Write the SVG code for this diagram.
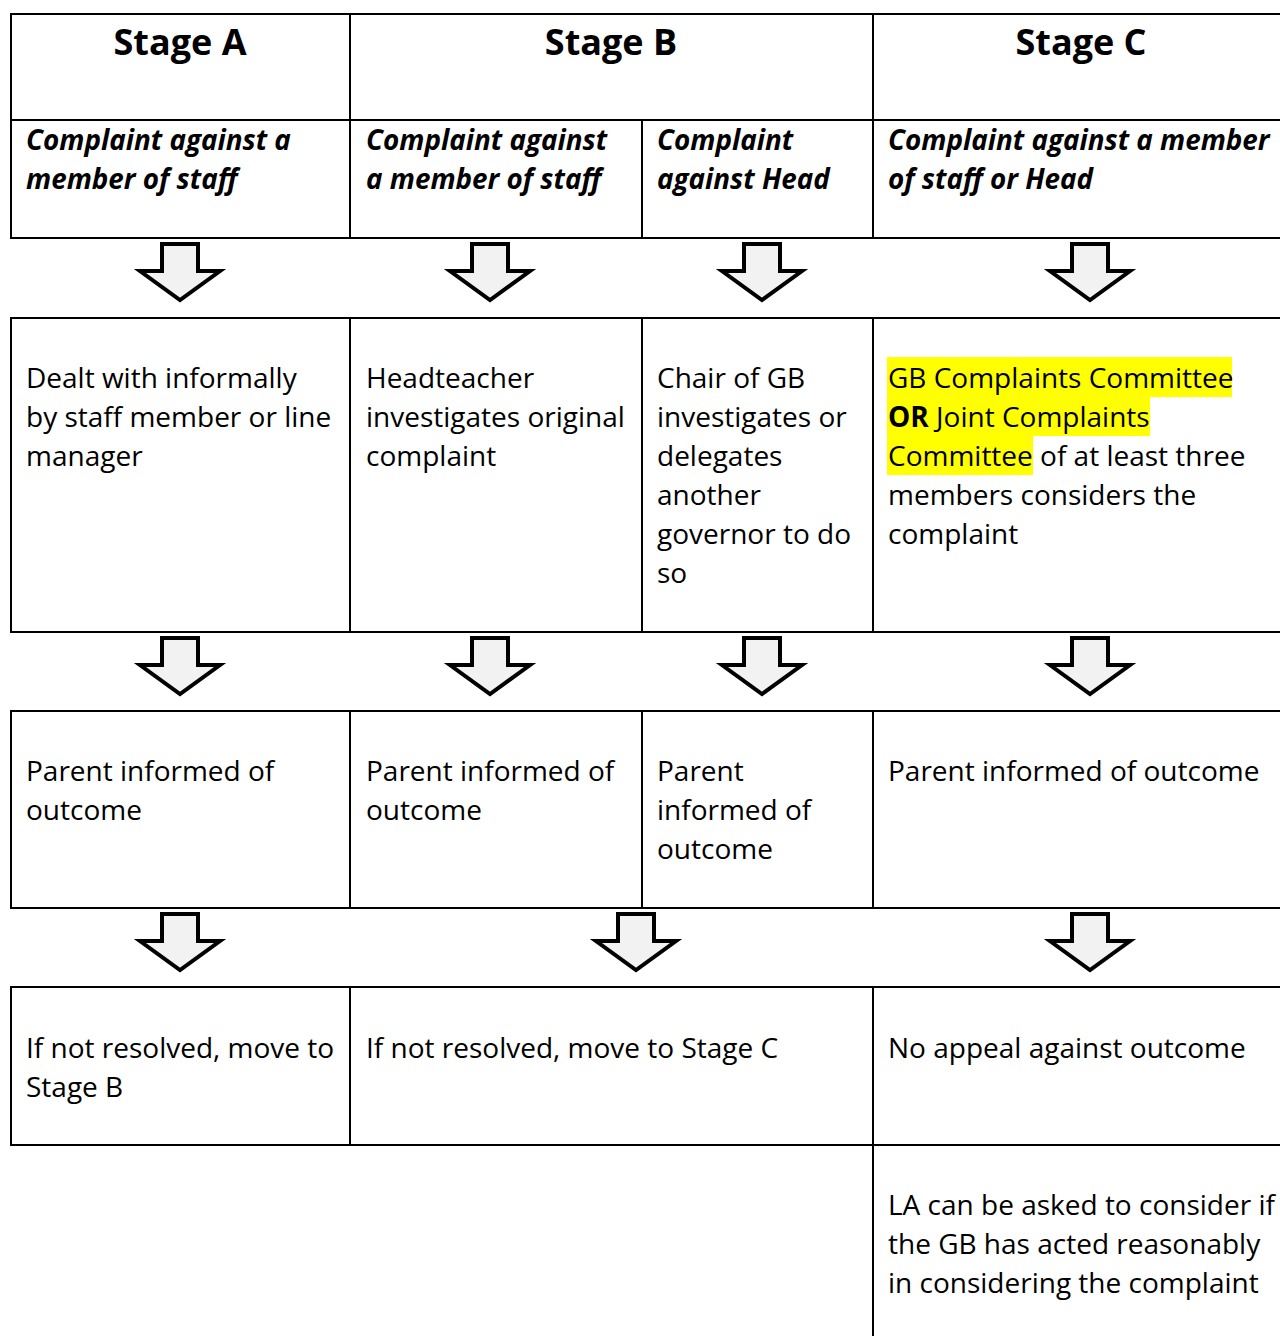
<svg xmlns="http://www.w3.org/2000/svg" xmlns:xlink="http://www.w3.org/1999/xlink" width="1280" height="1336" viewBox="0 0 1280 1336">
  <style>
    .cell { fill: #ffffff; stroke: #000000; stroke-width: 2; }
    .t { font-family: "Open Sans", "Noto Sans", "Liberation Sans", sans-serif; font-size: 28px; fill: #000000; }
    .h { font-family: "Open Sans", "Noto Sans", "Liberation Sans", sans-serif; font-size: 36px; font-weight: bold; fill: #000000; text-anchor: middle; }
    .s { font-family: "Open Sans", "Noto Sans", "Liberation Sans", sans-serif; font-size: 27.8px; font-weight: bold; font-style: italic; fill: #000000; }
    .hl { fill: #ffff00; }
    .arrow { fill: #f2f2f2; stroke: #000000; stroke-width: 4; stroke-linejoin: miter; stroke-miterlimit: 10; }
  </style>
  <defs>
    <path id="down" d="M -18 6 H 18 V 33 H 40 L 0 62 L -40 33 H -18 Z"/>
  </defs>
  <rect x="0" y="0" width="1280" height="1336" fill="#ffffff"/>

  <!-- Row 1: stage headers -->
  <g id="head-a"><rect class="cell" x="11" y="14" width="339" height="106"/><text class="h" x="180" y="55">Stage A</text></g>
  <g id="head-b"><rect class="cell" x="350" y="14" width="523" height="106"/><text class="h" x="611" y="55">Stage B</text></g>
  <g id="head-c"><rect class="cell" x="873" y="14" width="420" height="106"/><text class="h" x="1081" y="55">Stage C</text></g>

  <!-- Row 2: complaint types -->
  <g id="type-a"><rect class="cell" x="11" y="120" width="339" height="118"/><text class="s" x="26" y="150">Complaint against a</text><text class="s" x="26" y="189">member of staff</text></g>
  <g id="type-b1"><rect class="cell" x="350" y="120" width="292" height="118"/><text class="s" x="366" y="150">Complaint against</text><text class="s" x="366" y="189">a member of staff</text></g>
  <g id="type-b2"><rect class="cell" x="642" y="120" width="231" height="118"/><text class="s" x="657" y="150">Complaint</text><text class="s" x="657" y="189">against Head</text></g>
  <g id="type-c"><rect class="cell" x="873" y="120" width="420" height="118"/><text class="s" x="888" y="150">Complaint against a member</text><text class="s" x="888" y="189">of staff or Head</text></g>

  <!-- Row 3: handling -->
  <g id="handle-a"><rect class="cell" x="11" y="318" width="339" height="314"/>
    <text class="t" x="26" y="388">Dealt with informally</text>
    <text class="t" x="26" y="427">by staff member or line</text>
    <text class="t" x="26" y="466">manager</text></g>
  <g id="handle-b1"><rect class="cell" x="350" y="318" width="292" height="314"/>
    <text class="t" x="366" y="388">Headteacher</text>
    <text class="t" x="366" y="427">investigates original</text>
    <text class="t" x="366" y="466">complaint</text></g>
  <g id="handle-b2"><rect class="cell" x="642" y="318" width="231" height="314"/>
    <text class="t" x="657" y="388">Chair of GB</text>
    <text class="t" x="657" y="427">investigates or</text>
    <text class="t" x="657" y="466">delegates</text>
    <text class="t" x="657" y="505">another</text>
    <text class="t" x="657" y="544">governor to do</text>
    <text class="t" x="657" y="583">so</text></g>
  <g id="handle-c"><rect class="cell" x="873" y="318" width="420" height="314"/>
    <rect class="hl" x="887" y="357" width="345" height="40"/>
    <rect class="hl" x="887" y="396" width="263" height="40"/>
    <rect class="hl" x="887" y="435" width="146" height="40"/>
    <text class="t" x="888" y="388">GB Complaints Committee</text>
    <text class="t" x="888" y="427"><tspan font-weight="bold">OR</tspan> Joint Complaints</text>
    <text class="t" x="888" y="466">Committee of at least three</text>
    <text class="t" x="888" y="505">members considers the</text>
    <text class="t" x="888" y="544">complaint</text></g>

  <!-- Row 4: outcome -->
  <g id="outcome-a"><rect class="cell" x="11" y="711" width="339" height="197"/>
    <text class="t" x="26" y="781">Parent informed of</text>
    <text class="t" x="26" y="820">outcome</text></g>
  <g id="outcome-b1"><rect class="cell" x="350" y="711" width="292" height="197"/>
    <text class="t" x="366" y="781">Parent informed of</text>
    <text class="t" x="366" y="820">outcome</text></g>
  <g id="outcome-b2"><rect class="cell" x="642" y="711" width="231" height="197"/>
    <text class="t" x="657" y="781">Parent</text>
    <text class="t" x="657" y="820">informed of</text>
    <text class="t" x="657" y="859">outcome</text></g>
  <g id="outcome-c"><rect class="cell" x="873" y="711" width="420" height="197"/>
    <text class="t" x="888" y="781">Parent informed of outcome</text></g>

  <!-- Row 5: next step -->
  <g id="next-a"><rect class="cell" x="11" y="987" width="339" height="158"/>
    <text class="t" x="26" y="1058">If not resolved, move to</text>
    <text class="t" x="26" y="1097">Stage B</text></g>
  <g id="next-b"><rect class="cell" x="350" y="987" width="523" height="158"/>
    <text class="t" x="366" y="1058">If not resolved, move to Stage C</text></g>
  <g id="next-c"><rect class="cell" x="873" y="987" width="420" height="158"/>
    <text class="t" x="888" y="1058">No appeal against outcome</text></g>

  <!-- Row 6: LA -->
  <g id="la-c"><rect class="cell" x="873" y="1145" width="420" height="210"/>
    <text class="t" x="888" y="1215">LA can be asked to consider if</text>
    <text class="t" x="888" y="1254">the GB has acted reasonably</text>
    <text class="t" x="888" y="1293">in considering the complaint</text></g>

  <!-- Connectors: block arrows -->
  <g id="connectors">
    <use xlink:href="#down" href="#down" class="arrow" x="180" y="238"/>
    <use xlink:href="#down" href="#down" class="arrow" x="490" y="238"/>
    <use xlink:href="#down" href="#down" class="arrow" x="762" y="238"/>
    <use xlink:href="#down" href="#down" class="arrow" x="1090" y="238"/>
    <use xlink:href="#down" href="#down" class="arrow" x="180" y="632"/>
    <use xlink:href="#down" href="#down" class="arrow" x="490" y="632"/>
    <use xlink:href="#down" href="#down" class="arrow" x="762" y="632"/>
    <use xlink:href="#down" href="#down" class="arrow" x="1090" y="632"/>
    <use xlink:href="#down" href="#down" class="arrow" x="180" y="908"/>
    <use xlink:href="#down" href="#down" class="arrow" x="636" y="908"/>
    <use xlink:href="#down" href="#down" class="arrow" x="1090" y="908"/>
  </g>
</svg>
